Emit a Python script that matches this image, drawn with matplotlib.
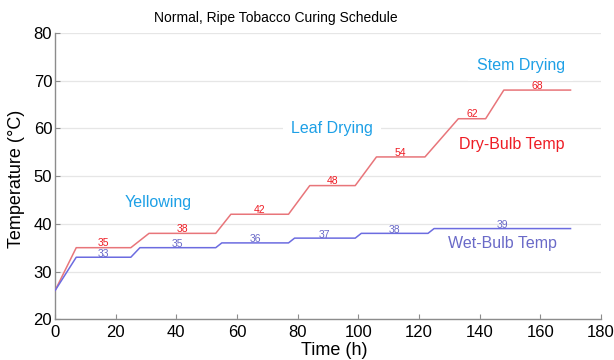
import matplotlib
matplotlib.use("Agg")
import matplotlib.pyplot as plt

plt.rcParams['font.family'] = ['Liberation Sans', 'DejaVu Sans']

# Dry-bulb schedule (time in h, temperature in °C)
dry_t = [0, 7, 25, 31, 53, 58, 77, 84, 99, 106, 122, 133, 142, 148, 170]
dry_v = [26, 35, 35, 38, 38, 42, 42, 48, 48, 54, 54, 62, 62, 68, 68]
# Wet-bulb schedule
wet_t = [0, 7, 25, 28, 53, 55, 77, 79, 99, 101, 123, 125, 170]
wet_v = [26, 33, 33, 35, 35, 36, 36, 37, 37, 38, 38, 39, 39]

phase_labels = ["Yellowing", "Leaf Drying", "Stem Drying"]
phase_x = [34, 91.3, 153.6]
phase_y = [44.5, 60.0, 73.2]

title = "Normal, Ripe Tobacco Curing Schedule"
xlabel = "Time (h)"
ylabel = "Temperature (°C)"

dry_color = '#e8757a'
wet_color = '#6c6ce0'
dry_text = '#ee1c24'
wet_text = '#6a6ac8'
phase_color = '#1ea0e6'

fig = plt.figure(figsize=(6.14, 3.6), dpi=100)
ax = fig.add_axes([0.0896, 0.113, 0.889, 0.796])

ax.plot(dry_t, dry_v, color=dry_color, lw=1.1, zorder=3)
ax.plot(wet_t, wet_v, color=wet_color, lw=1.1, zorder=3)

# value labels at middle of each plateau
for i in range(1, len(dry_t) - 1, 2):
    ax.text((dry_t[i] + dry_t[i + 1]) / 2, dry_v[i] + 0.9, str(dry_v[i]),
            color=dry_text, fontsize=7.5, ha='center', va='center', zorder=4)
for i in range(1, len(wet_t) - 1, 2):
    ax.text((wet_t[i] + wet_t[i + 1]) / 2, wet_v[i] + 0.75, str(wet_v[i]),
            color=wet_text, fontsize=7.5, ha='center', va='center', zorder=4)

for lab, x, y in zip(phase_labels, phase_x, phase_y):
    ax.text(x, y, lab, color=phase_color, fontsize=11.5, ha='center', va='center',
            zorder=4, bbox=dict(facecolor='white', edgecolor='none', pad=6))

ax.text(150.7, 56.7, "Dry-Bulb Temp", color=dry_text, fontsize=11.5, ha='center',
        va='center', zorder=4)
ax.text(147.7, 35.8, "Wet-Bulb Temp", color=wet_text, fontsize=11.5, ha='center',
        va='center', zorder=4)

ax.text(0.405, 1.051, title, transform=ax.transAxes, fontsize=10, ha='center',
        va='center', clip_on=False, zorder=5,
        bbox=dict(facecolor='white', edgecolor='none', boxstyle='square,pad=0.6'))

ax.set_xlim(0, 180)
ax.set_ylim(20, 80)
ax.set_xticks(range(0, 181, 20))
ax.set_yticks(range(20, 81, 10))
ax.grid(axis='y', color='#e6e6e6', lw=0.9, zorder=0)
ax.set_axisbelow(True)
for s in ['top', 'right']:
    ax.spines[s].set_visible(False)
for s in ['left', 'bottom']:
    ax.spines[s].set_color('#8c8c8c')
    ax.spines[s].set_linewidth(1.0)
ax.tick_params(direction='in', length=3.5, color='#8c8c8c', labelsize=12)
ax.tick_params(axis='x', pad=4)
ax.tick_params(axis='y', pad=2)
ax.set_xlabel(xlabel, fontsize=13)
ax.set_ylabel(ylabel, fontsize=13)
ax.xaxis.set_label_coords(0.511, -0.08)
ax.yaxis.set_label_coords(-0.055, 0.49)

fig.savefig("out.png", dpi=100)
